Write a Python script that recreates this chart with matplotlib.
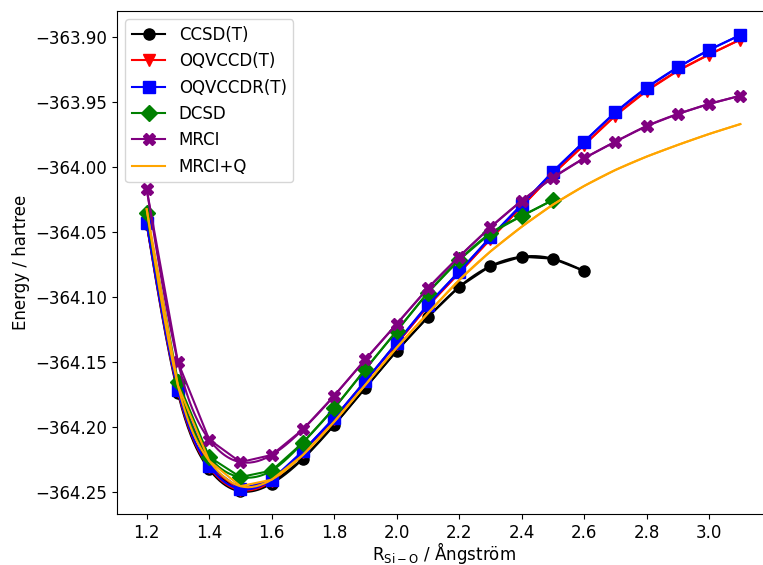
import matplotlib
matplotlib.use('Agg')
import matplotlib.pyplot as plt
import numpy as np

# bond lengths (Angstrom)
r = np.round(np.arange(1.2, 3.15, 0.1), 1)

ccsd_t = [-364.044, -364.174, -364.2325, -364.2495, -364.2435, -364.2245, -364.1985,
          -364.1698, -364.1415, -364.1155, -364.0922, -364.0762, -364.069, -364.0705,
          -364.080]
oqvccd_t = [-364.0435, -364.1725, -364.231, -364.2485, -364.2415, -364.219, -364.1935,
            -364.1645, -364.136, -364.107, -364.0815, -364.0555, -364.0305, -364.0055,
            -363.983, -363.9605, -363.9415, -363.926, -363.9135, -363.902]
oqvccdr_t = [-364.043, -364.1715, -364.230, -364.2477, -364.2405, -364.2185, -364.193,
             -364.1646, -364.1352, -364.106, -364.0805, -364.054, -364.029, -364.0036,
             -363.9805, -363.958, -363.939, -363.9233, -363.910, -363.8985]
dcsd = [-364.0354, -364.165, -364.223, -364.2385, -364.2335, -364.212, -364.1855,
        -364.1555, -364.1262, -364.0967, -364.0715, -364.051, -364.0377, -364.0254]
mrci = [-364.017, -364.150, -364.2096, -364.227, -364.2215, -364.2018, -364.176,
        -364.148, -364.1208, -364.0933, -364.069, -364.0464, -364.026, -364.0082,
        -363.9933, -363.9805, -363.9685, -363.9592, -363.9515, -363.9452]
mrci_q = [-364.0325, -364.168, -364.226, -364.2455, -364.2405, -364.2215, -364.196,
          -364.1675, -364.139, -364.1125, -364.087, -364.065, -364.046, -364.029,
          -364.0146, -364.0023, -363.992, -363.983, -363.9746, -363.967]


def spline(x, y, n=300):
    # natural cubic spline through the points, only used for drawing
    x = np.asarray(x, float)
    y = np.asarray(y, float)
    m = len(x)
    h = np.diff(x)
    A = np.zeros((m, m))
    b = np.zeros(m)
    A[0, 0] = A[-1, -1] = 1.0
    for i in range(1, m - 1):
        A[i, i - 1] = h[i - 1]
        A[i, i] = 2 * (h[i - 1] + h[i])
        A[i, i + 1] = h[i]
        b[i] = 3 * ((y[i + 1] - y[i]) / h[i] - (y[i] - y[i - 1]) / h[i - 1])
    c = np.linalg.solve(A, b)
    xs = np.linspace(x[0], x[-1], n)
    k = np.clip(np.searchsorted(x, xs) - 1, 0, m - 2)
    dx = xs - x[k]
    bb = (y[k + 1] - y[k]) / h[k] - h[k] * (2 * c[k] + c[k + 1]) / 3
    dd = (c[k + 1] - c[k]) / (3 * h[k])
    return xs, y[k] + bb * dx + c[k] * dx**2 + dd * dx**3


series = [
    ('CCSD(T)', ccsd_t, 'black', 'o'),
    ('OQVCCD(T)', oqvccd_t, 'red', 'v'),
    ('OQVCCDR(T)', oqvccdr_t, 'blue', 's'),
    ('DCSD', dcsd, 'green', 'D'),
    ('MRCI', mrci, 'purple', 'X'),
    ('MRCI+Q', mrci_q, 'orange', None),
]

fig = plt.figure(figsize=(7.63, 5.65), dpi=100)
ax = fig.add_axes([117 / 763, 1 - 514 / 565, 653 / 763, 503 / 565])

for name, e, col, mk in series:
    x = r[:len(e)]
    ax.plot(x, e, color=col, marker=mk, ms=8, lw=1.5, label=name)
    xs, ys = spline(x, e)
    ax.plot(xs, ys, color=col, lw=1.5)

ax.set_xlim(1.105, 3.195)
ax.set_ylim(-364.2669, -363.880)
ax.set_xticks(np.arange(1.2, 3.05, 0.2))
ax.tick_params(labelsize=12)
ax.set_xlabel(r'R$_{\mathrm{Si-O}}$ / Ångström', fontsize=12, labelpad=-1)
ax.set_ylabel('Energy / hartree', fontsize=12)
ax.legend(loc='upper left', fontsize=12)

fig.savefig('out.png', dpi=100)
